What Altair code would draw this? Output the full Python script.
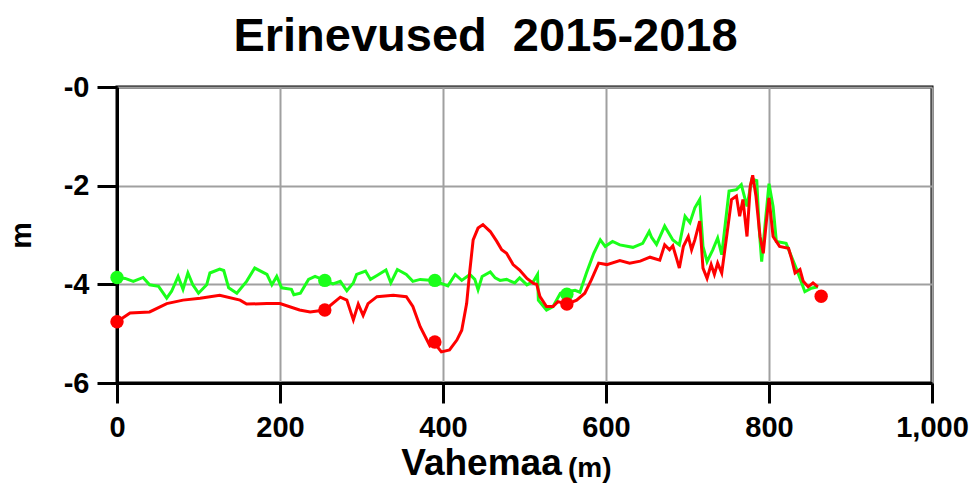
import altair as alt
import pandas as pd

# Red profile (distance m, elevation m)
red_x = [0, 16, 40, 61, 81, 102, 126, 151, 159, 184, 200, 224, 237, 255, 274, 282, 290, 296, 302, 308,
         319, 339, 355, 363, 372, 384, 390, 398, 408, 417, 423, 429, 433, 437, 443, 449, 458, 466, 472, 478,
         486, 494, 503, 511, 515, 519, 527, 535, 541, 552, 564, 574, 582, 591, 601, 617, 629, 642, 654, 666,
         672, 678, 682, 687, 690, 695, 701, 705, 709, 715, 719, 724, 729, 733, 737, 742, 748, 754, 760, 764,
         768, 773, 777, 780, 784, 789, 793, 797, 800, 805, 813, 824, 828, 832, 838, 842, 848, 854, 860]
red_y = [-4.76, -4.58, -4.56, -4.39, -4.32, -4.28, -4.22, -4.32, -4.40, -4.39, -4.39, -4.52, -4.56, -4.52,
         -4.26, -4.32, -4.72, -4.40, -4.63, -4.39, -4.25, -4.22, -4.25, -4.45, -4.86, -5.25, -5.20, -5.37,
         -5.33, -5.13, -4.93, -4.39, -3.71, -3.10, -2.86, -2.79, -2.93, -3.13, -3.30, -3.37, -3.60, -3.71,
         -3.88, -3.98, -4.00, -4.25, -4.45, -4.45, -4.35, -4.40, -4.32, -4.18, -3.91, -3.57, -3.60, -3.52,
         -3.57, -3.53, -3.45, -3.51, -3.20, -3.30, -3.22, -3.50, -3.67, -3.23, -3.03, -3.30, -3.10, -2.72,
         -3.67, -3.88, -3.60, -3.80, -3.57, -3.77, -3.03, -2.28, -2.21, -2.62, -2.28, -3.03, -2.01, -1.79,
         -2.21, -3.03, -3.37, -2.69, -2.25, -3.03, -3.23, -3.27, -3.50, -3.77, -3.70, -3.94, -4.05, -3.97,
         -4.05]

# Green profile
green_x = [0, 10, 20, 32, 40, 51, 61, 67, 75, 81, 87, 93, 100, 110, 114, 126, 131, 137, 147, 159, 169, 184,
           190, 196, 202, 214, 217, 225, 235, 243, 255, 265, 274, 282, 290, 294, 305, 311, 319, 330, 336, 344,
           355, 363, 372, 388, 406, 415, 423, 433, 439, 443, 448, 458, 464, 470, 478, 488, 494, 503, 511, 516,
           517, 527, 535, 544, 552, 562, 568, 576, 585, 593, 599, 608, 617, 633, 645, 653, 656, 662, 672, 682,
           690, 697, 703, 709, 715, 719, 724, 731, 737, 742, 751, 760, 766, 773, 779, 785, 788, 791, 795, 800,
           805, 809, 821, 834, 844, 852, 860]
green_y = [-3.86, -3.88, -3.94, -3.86, -4.01, -4.04, -4.28, -4.14, -3.84, -4.10, -3.77, -4.01, -4.18, -4.01,
           -3.77, -3.69, -3.72, -4.07, -4.18, -3.94, -3.67, -3.80, -4.01, -3.84, -4.07, -4.10, -4.21, -4.18,
           -3.90, -3.84, -3.92, -3.99, -3.94, -4.13, -3.97, -3.80, -3.73, -3.90, -3.82, -3.71, -3.97, -3.70,
           -3.80, -3.94, -3.90, -3.92, -4.03, -3.80, -3.92, -3.80, -3.90, -4.11, -3.84, -3.75, -3.87, -3.92,
           -3.90, -3.97, -3.87, -4.01, -3.94, -3.80, -4.32, -4.52, -4.45, -4.18, -4.15, -4.12, -4.16, -3.77,
           -3.37, -3.10, -3.23, -3.13, -3.20, -3.25, -3.17, -2.93, -3.05, -3.19, -2.82, -3.10, -3.20, -2.62,
           -2.75, -2.45, -2.28, -3.23, -3.54, -3.30, -3.06, -3.40, -2.11, -2.08, -1.98, -2.42, -1.87, -1.90,
           -2.88, -3.54, -2.82, -1.96, -2.42, -3.13, -3.17, -3.70, -4.15, -4.08, -4.05]

# Marker points
green_pts_x = [0, 255, 390, 552]
green_pts_y = [-3.86, -3.92, -3.92, -4.20]
red_pts_x = [0, 255, 390, 552, 864]
red_pts_y = [-4.76, -4.52, -5.17, -4.40, -4.24]

x_ticks = [0, 200, 400, 600, 800, 1000]
y_ticks = [-6, -4, -2, 0]

GREEN = "#1aff1a"
RED = "#ff0000"
FONT = "Liberation Sans"

red_df = pd.DataFrame({"x": red_x, "y": red_y})
green_df = pd.DataFrame({"x": green_x, "y": green_y})
gp_df = pd.DataFrame({"x": green_pts_x, "y": green_pts_y})
rp_df = pd.DataFrame({"x": red_pts_x, "y": red_pts_y})

xs = alt.Scale(domain=[0, 1000], nice=False)
ys = alt.Scale(domain=[-6, 0], nice=False)

xax = alt.Axis(values=x_ticks, format=",.0f", title="Vahemaa", grid=True, labelFlush=False,
               titleX=364, titleY=91, titleBaseline="alphabetic", titleAnchor="start",
               titleAlign="center")
yax = alt.Axis(values=y_ticks, title="m", grid=True, labelFlush=False,
               labelExpr="'-' + abs(datum.value)",
               titleX=-87, titleBaseline="alphabetic")

base_x = alt.X("x:Q", scale=xs, axis=xax)
base_y = alt.Y("y:Q", scale=ys, axis=yax)

green_line = alt.Chart(green_df).mark_line(color=GREEN, strokeWidth=3).encode(
    x=base_x, y=base_y, order="x:Q")
red_line = alt.Chart(red_df).mark_line(color=RED, strokeWidth=3).encode(
    x="x:Q", y="y:Q", order="x:Q")
green_pts = alt.Chart(gp_df).mark_circle(color=GREEN, size=180, opacity=1).encode(x="x:Q", y="y:Q")
red_pts = alt.Chart(rp_df).mark_circle(color=RED, size=180, opacity=1).encode(x="x:Q", y="y:Q")

unit = alt.Chart(pd.DataFrame({"t": ["(m)"]})).mark_text(
    font=FONT, fontSize=28, fontWeight="bold", align="left", baseline="alphabetic", color="black"
).encode(text="t:N", x=alt.value(451), y=alt.value(390))

chart = alt.layer(green_line, red_line, green_pts, red_pts, unit).properties(
    width=815, height=296,
    autosize=alt.AutoSizeParams(type="none"),
    padding={"left": 117, "top": 87, "right": 44, "bottom": 105},
    title=alt.Title("Erinevused\u00a0\u00a02015-2018", font=FONT, fontSize=47,
                    fontWeight="bold", color="black", dx=-39, offset=12, anchor="middle"),
).configure_view(stroke="black", strokeWidth=3).configure_axis(
    labelFont=FONT, labelFontSize=29, labelFontWeight="bold", labelColor="black",
    titleFont=FONT, titleFontSize=37, titleFontWeight="bold", titleColor="black",
    domainColor="black", domainWidth=3, tickColor="black", tickWidth=3, tickSize=20,
    gridColor="#a0a0a0", gridWidth=2, gridOpacity=1, labelPadding=8,
).configure_axisX(labelPadding=10).configure_axisY(titleFontSize=30)

chart.save("out.html", embed_options={"renderer": "svg", "actions": False})
